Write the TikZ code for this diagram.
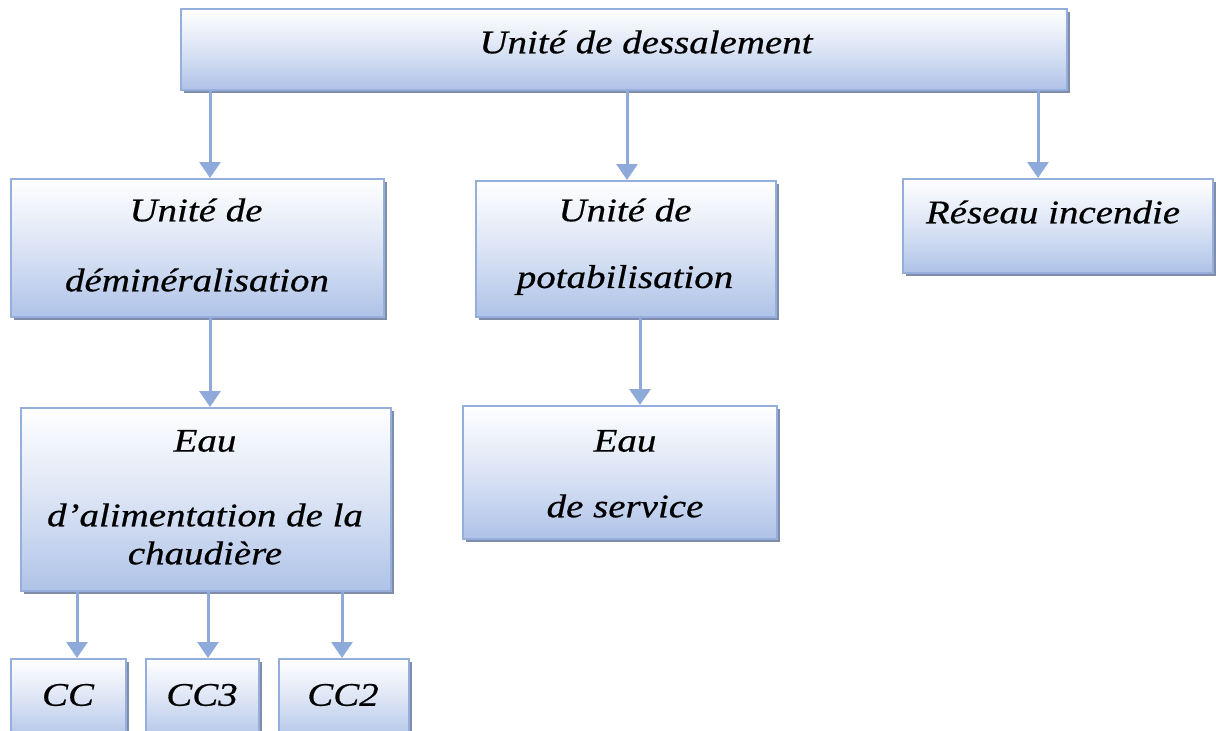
\documentclass[tikz,border=0pt]{standalone}
\usepackage{fontspec}
\setmainfont{Liberation Serif}
\newfontfamily\lblfont[FakeStretch=1.18,FakeBold=0.5]{Liberation Serif}
\usetikzlibrary{arrows.meta}
\definecolor{boxedge}{HTML}{95AEDC}
\definecolor{boxlow}{HTML}{AFC3E8}
\definecolor{boxshadow}{HTML}{7F8DAA}
\definecolor{arrowcol}{HTML}{8EAADB}
\tikzset{
  box/.style={draw=boxedge, line width=1.5pt, top color=white, bottom color=boxlow, middle color=white!55!boxlow, inner sep=0pt, anchor=north west},
  lbl/.style={font=\lblfont\itshape\fontsize{33}{38}\selectfont, inner sep=0pt},
  conn/.style={arrowcol, line width=3pt, -{Triangle[width=21pt,length=16pt]}},
}
\newcommand{\mybox}[5]{%
  \fill[boxshadow] (#2+4,#3+4) rectangle (#4+4,#5+4);
  \node[box, minimum width={(#4-#2)*1pt}, minimum height={(#5-#3)*1pt}] (#1) at (#2,#3) {};
}
\begin{document}
\begin{tikzpicture}[x=1pt,y=-1pt]
\useasboundingbox (0,0) rectangle (1216,731);
\mybox{top}{180}{8}{1066}{89}
\mybox{demin}{10}{178}{383}{316}
\mybox{potab}{475}{180}{775}{316}
\mybox{reseau}{902}{178}{1212}{272}
\mybox{eaual}{20}{407}{390}{590}
\mybox{eauserv}{462}{405}{776}{538}
\mybox{cc}{10}{658}{125}{740}
\mybox{ccthree}{145}{658}{258}{740}
\mybox{cctwo}{278}{658}{408}{740}

\node[lbl] (ttop) at (646,42) {Unité de dessalement};
\node[lbl] (td1) at (196,210) {Unité de};
\node[lbl] (td2) at (197,280) {déminéralisation};
\node[lbl] (tp1) at (625,210) {Unité de};
\node[lbl] (tp2) at (625,280) {potabilisation};
\node[lbl] (tr) at (1053,212) {Réseau incendie};
\node[lbl] (te1) at (205,441) {Eau};
\node[lbl] (te2) at (205,515) {d’alimentation de la};
\node[lbl] (te3) at (205,553) {chaudière};
\node[lbl] (ts1) at (625,441) {Eau};
\node[lbl] (ts2) at (625,506) {de service};
\node[lbl] (tcc) at (68,695) {CC};
\node[lbl] (tcc3) at (202,695) {CC3};
\node[lbl] (tcc2) at (343,695) {CC2};

\draw[conn] (top.south -| 210,0) -- (demin.north -| 210,0);
\draw[conn] (top.south -| 627,0) -- (potab.north -| 627,0);
\draw[conn] (top.south -| 1038,0) -- (reseau.north -| 1038,0);
\draw[conn] (demin.south -| 210,0) -- (eaual.north -| 210,0);
\draw[conn] (potab.south -| 640,0) -- (eauserv.north -| 640,0);
\draw[conn] (eaual.south -| 77,0) -- (cc.north -| 77,0);
\draw[conn] (eaual.south -| 208,0) -- (ccthree.north -| 208,0);
\draw[conn] (eaual.south -| 342,0) -- (cctwo.north -| 342,0);
\end{tikzpicture}
\end{document}
